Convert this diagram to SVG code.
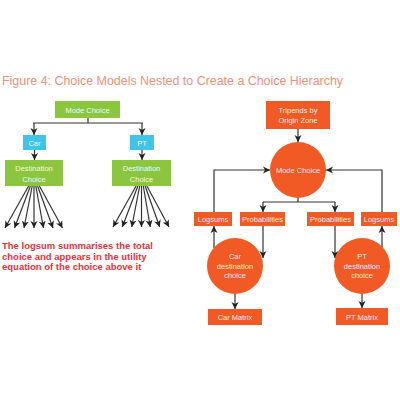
<svg xmlns="http://www.w3.org/2000/svg" width="400" height="400" viewBox="0 0 400 400">
<style>
.ln{stroke:#333;stroke-width:1.2;fill:none}
.ar{marker-end:url(#ah)}
.g{fill:#8cc63f}
.c{fill:#3fc5e8}
.o{fill:#f15a24}
.t{font-family:"Liberation Sans",Arial,sans-serif;font-size:7.5px;fill:#fff;fill-opacity:0.92;text-anchor:middle}
</style>
<defs>
<marker id="ah" markerUnits="userSpaceOnUse" markerWidth="8" markerHeight="8" refX="7" refY="4" orient="auto">
<path d="M0,0.5 L7,4 L0,7.5 L2,4 z" fill="#222"/>
</marker>
</defs>
<rect width="400" height="400" fill="#fff"/>
<text x="2" y="85" font-family="Liberation Sans,Arial,sans-serif" font-size="12.3" fill="#f0907a" textLength="341" lengthAdjust="spacingAndGlyphs">Figure 4: Choice Models Nested to Create a Choice Hierarchy</text>

<g id="connectors">
<path class="ln" d="M88,118 V123 M33,123 H143"/>
<path class="ln ar" d="M34,123 V135"/>
<path class="ln ar" d="M142,123 V135"/>
<path class="ln ar" d="M34.5,150 V160"/>
<path class="ln ar" d="M142,150 V160"/>
<path class="ln ar" d="M28.6,186 L5,228"/>
<path class="ln ar" d="M30.4,186 L14.5,228"/>
<path class="ln ar" d="M32.2,186 L24,228"/>
<path class="ln ar" d="M34,186 L34,228"/>
<path class="ln ar" d="M35.8,186 L43.5,228"/>
<path class="ln ar" d="M37.6,186 L53,228"/>
<path class="ln ar" d="M39.4,186 L62.5,228"/>
<path class="ln ar" d="M136.1,186 L113,227"/>
<path class="ln ar" d="M137.9,186 L122.3,227"/>
<path class="ln ar" d="M139.7,186 L131.7,227"/>
<path class="ln ar" d="M141.5,186 L141.5,227"/>
<path class="ln ar" d="M143.3,186 L150.3,227"/>
<path class="ln ar" d="M145.1,186 L159.7,227"/>
<path class="ln ar" d="M146.9,186 L169,227"/>
<path class="ln ar" d="M298,129 V142"/>
<path class="ln" d="M298,198 V202 M263,202 H335"/>
<path class="ln ar" d="M263,202 V212"/>
<path class="ln ar" d="M335,202 V212"/>
<path class="ln ar" d="M214,212 V170 H270"/>
<path class="ln ar" d="M382,212 V170 H326"/>
<path class="ln ar" d="M214,248 V226"/>
<path class="ln ar" d="M382,247 V226"/>
<path class="ln ar" d="M263,226 V258"/>
<path class="ln ar" d="M335,226 V258"/>
<path class="ln ar" d="M235,294 V309"/>
<path class="ln ar" d="M362,294 V308"/>
</g>

<g id="mode-choice-left"><rect class="g" x="55" y="101" width="65" height="17"/><text class="t" x="87.5" y="112.5">Mode Choice</text></g>
<g id="car"><rect class="c" x="23" y="135" width="23" height="15"/><text class="t" x="34.5" y="145.5">Car</text></g>
<g id="pt"><rect class="c" x="130" y="135" width="24" height="15"/><text class="t" x="142" y="145.5">PT</text></g>
<g id="dest-left"><rect class="g" x="5" y="160" width="58" height="26"/><text class="t" x="34" y="171">Destination</text><text class="t" x="34" y="181.5">Choice</text></g>
<g id="dest-right"><rect class="g" x="112" y="160" width="59" height="26"/><text class="t" x="141.5" y="171">Destination</text><text class="t" x="141.5" y="181.5">Choice</text></g>

<g id="note"><text font-family="Liberation Sans,Arial,sans-serif" font-size="9.5" font-weight="bold" fill="#e8323c">
<tspan x="2" y="249">The logsum summarises the total</tspan>
<tspan x="2" y="259.5">choice and appears in the utility</tspan>
<tspan x="2" y="270">equation of the choice above it</tspan></text></g>

<g id="tripends"><rect class="o" x="266" y="101" width="64" height="28"/><text class="t" x="298" y="112.5">Tripends by</text><text class="t" x="298" y="122.5">Origin Zone</text></g>
<g id="mode-choice-right"><circle class="o" cx="298" cy="170" r="28"/><text class="t" x="298" y="173">Mode Choice</text></g>
<g id="logsums-left"><rect class="o" x="194" y="212" width="38" height="14"/><text class="t" x="213" y="222">Logsums</text></g>
<g id="prob-left"><rect class="o" x="240" y="212" width="45" height="14"/><text class="t" x="262.5" y="222">Probabilities</text></g>
<g id="prob-right"><rect class="o" x="307" y="212" width="47" height="14"/><text class="t" x="330.5" y="222">Probabilities</text></g>
<g id="logsums-right"><rect class="o" x="361" y="212" width="36" height="14"/><text class="t" x="379" y="222">Logsums</text></g>
<g id="car-dest"><circle class="o" cx="235" cy="266" r="28"/><text class="t" x="235" y="259">Car</text><text class="t" x="235" y="268.5">destination</text><text class="t" x="235" y="278">choice</text></g>
<g id="pt-dest"><circle class="o" cx="362" cy="266" r="28"/><text class="t" x="362" y="259">PT</text><text class="t" x="362" y="268.5">destination</text><text class="t" x="362" y="278">choice</text></g>
<g id="car-matrix"><rect class="o" x="208" y="309" width="54" height="16"/><text class="t" x="235" y="320">Car Matrix</text></g>
<g id="pt-matrix"><rect class="o" x="336" y="308" width="52" height="17"/><text class="t" x="362" y="319.5">PT Matrix</text></g>
</svg>
